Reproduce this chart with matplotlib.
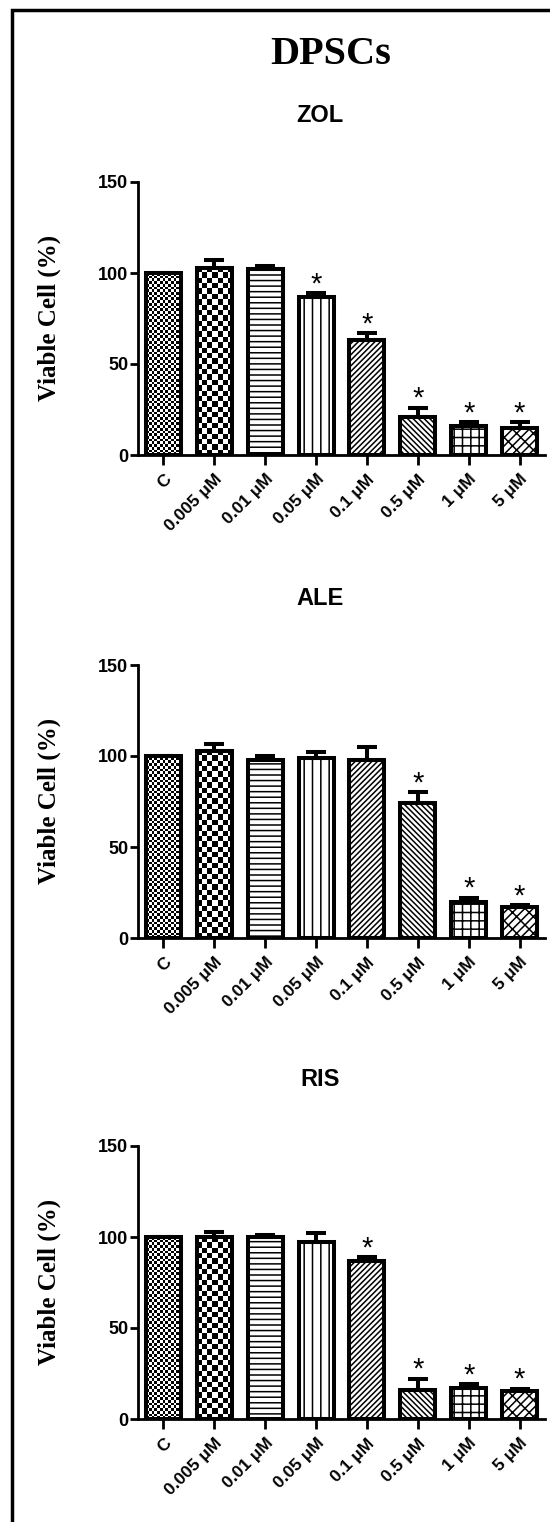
import numpy as np
import matplotlib
matplotlib.use('Agg')
import matplotlib.pyplot as plt
from matplotlib.patches import Rectangle

plt.rcParams['hatch.color'] = 'black'
plt.rcParams['hatch.linewidth'] = 1.1

# data
doses = ['C', '0.005 μM', '0.01 μM', '0.05 μM', '0.1 μM', '0.5 μM', '1 μM', '5 μM']
drugs = ['ZOL', 'ALE', 'RIS']

zol_mean = [100, 103, 102, 87, 63, 21, 16, 15]
zol_err = [0, 4, 2, 2, 4, 5, 2, 3]
zol_sig = [0, 0, 0, 1, 1, 1, 1, 1]

ale_mean = [100, 103, 98, 99, 98, 74, 20, 17]
ale_err = [0, 3.5, 2, 3, 7, 6, 2, 1]
ale_sig = [0, 0, 0, 0, 0, 1, 1, 1]

ris_mean = [100, 100, 100, 97, 87, 16, 17, 15.5]
ris_err = [0, 3, 1, 5, 2, 6, 2, 1]
ris_sig = [0, 0, 0, 0, 1, 1, 1, 1]

means = [zol_mean, ale_mean, ris_mean]
errs = [zol_err, ale_err, ris_err]
sigs = [zol_sig, ale_sig, ris_sig]

# hatch per dose; None = checker image fill (cell size in px)
hatches = [None, None, '---', '||', '//////', '\\\\\\\\\\\\', '++', '////\\\\']
checker_px = [2.7, 5.4]

W, H = 550, 1522
fig = plt.figure(figsize=(W / 100, H / 100), dpi=100)
sans = 'Liberation Sans'
serif = 'Liberation Serif'


def px(x, y):
    # pixel position (from top-left) -> figure fraction
    return x / W, 1 - y / H


def checker(ax, bar, cell):
    bb = bar.get_window_extent()
    nx = max(1, int(round(bb.width / cell)))
    ny = max(1, int(round(bb.height / cell)))
    img = (np.indices((ny, nx)).sum(axis=0) % 2).astype(float)
    x0 = bar.get_x()
    x1 = x0 + bar.get_width()
    im = ax.imshow(img, extent=(x0, x1, 0, bar.get_height()), cmap='gray',
                   interpolation='nearest', aspect='auto', zorder=2, origin='lower')
    im.set_clip_path(bar)


ax_top = [182, 665, 1146]
ax_h = 273
x = np.arange(len(doses))

for k in range(3):
    l, b = px(138, ax_top[k] + ax_h)
    ax = fig.add_axes([l, b, 407 / W, ax_h / H])
    ax.set_xlim(-0.5, 7.5)
    ax.set_ylim(0, 150)

    bars = ax.bar(x, means[k], width=0.69, color='white', edgecolor='none', zorder=1)
    for i, bar in enumerate(bars):
        if hatches[i] is None:
            checker(ax, bar, checker_px[i])
        else:
            bar.set_hatch(hatches[i])
            bar.set_edgecolor('black')
            bar.set_linewidth(0)
    ax.bar(x, means[k], width=0.69, fill=False, edgecolor='black', linewidth=2.9,
           zorder=3)

    ax.errorbar(x, means[k], yerr=[np.zeros(len(x)), errs[k]], fmt='none',
                ecolor='black', elinewidth=2.9, capsize=7, capthick=2.9, zorder=4)
    for i in range(len(x)):
        if sigs[k][i]:
            ax.text(x[i], means[k][i] + errs[k][i] + 0.5, '*', ha='center', va='baseline',
                    fontsize=21, fontfamily=sans, zorder=5)

    ax.set_xlim(-0.5, 7.5)
    ax.set_ylim(0, 150)
    ax.set_yticks([0, 50, 100, 150])
    ax.set_xticks(x)
    ax.set_xticklabels(doses, rotation=45, ha='right', rotation_mode='anchor',
                       fontfamily=sans, fontweight='bold', fontsize=12.5)
    for t in ax.get_yticklabels():
        t.set_fontfamily(sans)
        t.set_fontweight('bold')
        t.set_fontsize(13)
    ax.tick_params(axis='y', length=6, width=2, pad=1)
    ax.tick_params(axis='x', length=7, width=2, pad=5)
    for s in ['top', 'right']:
        ax.spines[s].set_visible(False)
    for s in ['left', 'bottom']:
        ax.spines[s].set_linewidth(2)

    tx, ty = px(320, ax_top[k] - 60)
    fig.text(tx, ty, drugs[k], ha='center', va='baseline', fontfamily=sans,
             fontweight='bold', fontsize=17)
    lx, ly = px(49, ax_top[k] + 136)
    fig.text(lx, ly, 'Viable Cell (%)', rotation=90, ha='center', va='center',
             fontfamily=serif, fontweight='bold', fontsize=18)

dx, dy = px(331, 64)
fig.text(dx, dy, 'DPSCs', ha='center', va='baseline', fontfamily=serif,
         fontweight='bold', fontsize=29)

# outer frame (right and bottom edges fall outside the image)
bx, by = px(12, 10)
fig.patches.append(Rectangle((bx, -0.1), 1.2, by + 0.1, transform=fig.transFigure,
                             fill=False, edgecolor='black', linewidth=2.5))

fig.savefig('out.png', dpi=100)
